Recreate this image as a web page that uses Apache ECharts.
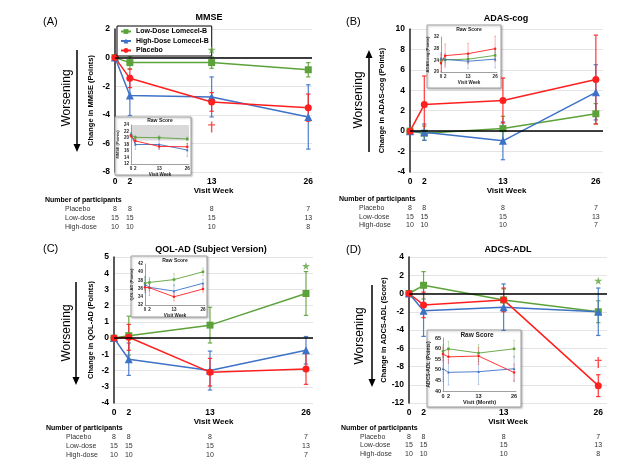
<!DOCTYPE html>
<html><head><meta charset="utf-8">
<script src="https://cdn.jsdelivr.net/npm/echarts@6/dist/echarts.min.js"></script>
<style>html,body{margin:0;padding:0;background:#fff}#c{width:640px;height:467px}</style>
</head><body><div id="c"></div>
<script>
// ---------- DATA ----------
const weeks = [0, 2, 13, 26];
const seriesNames = ['Low-Dose Lomecel-B', 'High-Dose Lomecel-B', 'Placebo'];
const rowLabels = ['Placebo', 'Low-dose', 'High-dose'];

// (A) MMSE change from baseline
const mmseLow = [0, -0.35, -0.35, -0.85], mmseLowErr = [0, 0.45, 0.4, 0.5];
const mmseHigh = [0, -2.65, -2.75, -4.15], mmseHighErr = [0, 1.4, 1.4, 2.25];
const mmsePbo = [0, -1.45, -3.1, -3.5], mmsePboErr = [0, 0.65, 0.65, 0.95];
const mmseRawLow = [20.9, 20.2, 20.1, 19.7], mmseRawLowErr = [0.6, 0.6, 0.6, 0.6];
const mmseRawHigh = [21.2, 18.0, 18.0, 16.3], mmseRawHighErr = [0.5, 1.5, 1.5, 2.0];
const mmseRawPbo = [20.7, 19.1, 17.4, 17.3], mmseRawPboErr = [0.5, 0.8, 0.8, 1.0];
const mmseBand = [19.2, 24];
const mmseStars = [[13, 0.55]], mmseDaggers = [[13, -4.85]];
const mmseN = [[8, 8, 8, 7], [15, 15, 15, 13], [10, 10, 10, 8]];

// (B) ADAS-cog
const adasLow = [0, -0.2, 0.25, 1.7], adasLowErr = [0, 0.7, 1.2, 1.0];
const adasHigh = [0, -0.1, -0.95, 3.8], adasHighErr = [0, 0.8, 1.85, 2.7];
const adasPbo = [0, 2.6, 3.0, 5.05], adasPboErr = [0, 2.8, 2.2, 4.35];
const adasRawLow = [24.0, 24.2, 24.4, 25.7], adasRawLowErr = [1, 1, 1, 1.2];
const adasRawHigh = [24.6, 24.3, 23.7, 24.4], adasRawHighErr = [2, 2, 2.5, 3];
const adasRawPbo = [23.1, 25.6, 26.3, 28.0], adasRawPboErr = [3, 4, 3.5, 4.3];
const adasN = [[8, 8, 8, 7], [15, 15, 15, 13], [10, 10, 10, 7]];

// (C) QOL-AD (Subject Version)
const qolLow = [0, 0.15, 0.8, 2.75], qolLowErr = [0, 1.2, 1.1, 1.35];
const qolHigh = [0, -1.3, -2.0, -0.75], qolHighErr = [0, 1.0, 1.2, 0.85];
const qolPbo = [0, 0.05, -2.1, -1.9], qolPboErr = [0, 0.8, 0.85, 0.95];
const qolRawLow = [37.3, 37.5, 38.2, 40.1], qolRawLowErr = [1.5, 1.2, 1.5, 0.9];
const qolRawHigh = [37.0, 36.3, 35.4, 37.3], qolRawHighErr = [2, 2, 1.5, 1];
const qolRawPbo = [36.3, 36.2, 34.0, 35.9], qolRawPboErr = [0.8, 0.8, 1, 0.8];
const qolStars = [[26, 4.45]];
const qolN = [[8, 8, 8, 7], [15, 15, 15, 13], [10, 10, 10, 7]];

// (D) ADCS-ADL
const adlLow = [0, 0.9, -0.7, -2.0], adlLowErr = [0, 1.5, 1.2, 1.2];
const adlHigh = [0, -1.9, -1.5, -2.0], adlHighErr = [0, 2.8, 2.55, 2.6];
const adlPbo = [0, -1.25, -0.7, -10.1], adlPboErr = [0, 1.4, 1.3, 1.2];
const adlRawLow = [58.7, 59.9, 57.9, 59.9], adlRawLowErr = [3, 3.5, 4, 4];
const adlRawHigh = [50.5, 48.8, 49.1, 50.5], adlRawHighErr = [6, 6, 6, 6];
const adlRawPbo = [57.4, 56.1, 56.5, 48.7], adlRawPboErr = [3, 3, 4, 4];
const adlStars = [[26, 1.4]], adlDaggers = [[26, -7.55]];
const adlN = [[8, 8, 8, 7], [15, 15, 15, 13], [10, 10, 10, 8]];

const panelData = [
  { main: [[mmseLow, mmseLowErr], [mmseHigh, mmseHighErr], [mmsePbo, mmsePboErr]],
    raw: [[mmseRawLow, mmseRawLowErr], [mmseRawHigh, mmseRawHighErr], [mmseRawPbo, mmseRawPboErr]],
    band: mmseBand, stars: mmseStars, daggers: mmseDaggers, counts: mmseN },
  { main: [[adasLow, adasLowErr], [adasHigh, adasHighErr], [adasPbo, adasPboErr]],
    raw: [[adasRawLow, adasRawLowErr], [adasRawHigh, adasRawHighErr], [adasRawPbo, adasRawPboErr]],
    band: null, stars: [], daggers: [], counts: adasN },
  { main: [[qolLow, qolLowErr], [qolHigh, qolHighErr], [qolPbo, qolPboErr]],
    raw: [[qolRawLow, qolRawLowErr], [qolRawHigh, qolRawHighErr], [qolRawPbo, qolRawPboErr]],
    band: null, stars: qolStars, daggers: [], counts: qolN },
  { main: [[adlLow, adlLowErr], [adlHigh, adlHighErr], [adlPbo, adlPboErr]],
    raw: [[adlRawLow, adlRawLowErr], [adlRawHigh, adlRawHighErr], [adlRawPbo, adlRawPboErr]],
    band: null, stars: adlStars, daggers: adlDaggers, counts: adlN }
];

// ---------- LAYOUT / STYLE ----------
const FONT = '"Liberation Sans", Arial, sans-serif';
const colors = ['#5ca23a', '#3d72c6', '#ff1f1f'];
const symbols = ['rect', 'triangle', 'circle'];
const symSizes = [7, 8, 7];
const STAR = 'path://M50,0 L61,35 L98,35 L68,57 L79,91 L50,70 L21,91 L32,57 L2,35 L39,35 Z';
const DAGGER = 'path://M4,0 H6 V4 H10 V6 H6 V16 H4 V6 H0 V4 H4 Z';

const layout = [
  { label: '(A)', labelX: 43, labelY: 22, title: 'MMSE', titleX: 209, titleY: 18,
    grid: { left: 115, top: 29, width: 197, height: 143 }, xmax: 26.5, ymin: -8, ymax: 2, yint: 2,
    yName: 'Change in MMSE (Points)', yGap: 20,
    arrowX: 77, arrowTop: 50, arrowBot: 152, arrowUp: false, wordX: 67, wordY: 98,
    inset: { box: [115, 117, 76, 58], grid: { left: 131, top: 125, width: 58, height: 39 }, xmax: 26.8,
      ymin: 12, ymax: 24, yint: 2, yName: 'MMSE (Points)', xName: 'Visit Week', fs: 4.5, tfs: 5, titleX: 160, titleY: 121 },
    table: { hx: 45, hy: 200, lx: 65, ry: [209, 218, 227] } },
  { label: '(B)', labelX: 346, labelY: 22, title: 'ADAS-cog', titleX: 506, titleY: 19,
    grid: { left: 410, top: 29, width: 193, height: 143 }, xmax: 27, ymin: -4, ymax: 10, yint: 2,
    yName: 'Change in ADAS-cog (Points)', yGap: 24,
    arrowX: 369, arrowTop: 50, arrowBot: 152, arrowUp: true, wordX: 359, wordY: 100,
    inset: { box: [427, 25, 74, 63], grid: { left: 441, top: 37, width: 56, height: 35 }, xmax: 26.9,
      ymin: 20, ymax: 32, yint: 4, yName: 'ADAS-cog (Points)', xName: 'Visit Week', fs: 4.5, tfs: 5, titleX: 469, titleY: 30 },
    table: { hx: 339, hy: 199, lx: 359, ry: [208, 217, 225] } },
  { label: '(C)', labelX: 43, labelY: 249, title: 'QOL-AD (Subject Version)', titleX: 211, titleY: 250,
    grid: { left: 114, top: 257, width: 199, height: 146 }, xmax: 26.95, ymin: -4, ymax: 5, yint: 1,
    yName: 'Change in QOL-AD (Points)', yGap: 19,
    arrowX: 76, arrowTop: 282, arrowBot: 385, arrowUp: false, wordX: 67, wordY: 333,
    inset: { box: [131, 256, 76, 61], grid: { left: 145, top: 264, width: 60, height: 41 }, xmax: 26.9,
      ymin: 32, ymax: 42, yint: 2, yName: 'QOL-AD (Points)', xName: 'Visit Week', fs: 4.5, tfs: 5, titleX: 175, titleY: 261 },
    table: { hx: 46, hy: 428, lx: 66, ry: [437, 446, 455] } },
  { label: '(D)', labelX: 346, labelY: 250, title: 'ADCS-ADL', titleX: 508, titleY: 250,
    grid: { left: 409, top: 257, width: 198, height: 146 }, xmax: 27.2, ymin: -12, ymax: 4, yint: 2,
    yName: 'Change in ADCS-ADL (Score)', yGap: 20,
    arrowX: 372, arrowTop: 285, arrowBot: 387, arrowUp: false, wordX: 360, wordY: 336,
    inset: { box: [427, 330, 94, 77], grid: { left: 443, top: 338, width: 73, height: 53 }, xmax: 26.7,
      ymin: 40, ymax: 65, yint: 5, yName: 'ADCS-ADL (Points)', xName: 'Visit (Month)', fs: 5.5, tfs: 6.5, titleX: 477, titleY: 335 },
    table: { hx: 341, hy: 428, lx: 360, ry: [437, 445, 454] } }
];

// ---------- BUILDERS ----------
function lineSeries(gi, name, vals, color, symbol, size, width, z) {
  return { type: 'line', name, xAxisIndex: gi, yAxisIndex: gi, z, silent: true, animation: false,
    data: weeks.map((w, i) => [w, vals[i]]), symbol, symbolSize: size,
    itemStyle: { color }, lineStyle: { color, width } };
}
function errSeries(gi, vals, errs, color, cap, width, opacity, z) {
  return { type: 'custom', xAxisIndex: gi, yAxisIndex: gi, z, silent: true, animation: false,
    data: weeks.map((w, i) => [w, vals[i] - errs[i], vals[i] + errs[i]]).filter((d, i) => errs[i] > 0),
    encode: { x: 0, y: [1, 2] },
    renderItem: (params, api) => {
      const x = api.value(0);
      const lo = api.coord([x, api.value(1)]);
      const hi = api.coord([x, api.value(2)]);
      const st = { stroke: color, lineWidth: width, opacity };
      return { type: 'group', children: [
        { type: 'line', shape: { x1: lo[0], y1: lo[1], x2: hi[0], y2: hi[1] }, style: st },
        { type: 'line', shape: { x1: lo[0] - cap, y1: lo[1], x2: lo[0] + cap, y2: lo[1] }, style: st },
        { type: 'line', shape: { x1: hi[0] - cap, y1: hi[1], x2: hi[0] + cap, y2: hi[1] }, style: st }
      ] };
    } };
}
function bandSeries(gi, band) {
  return { type: 'custom', xAxisIndex: gi, yAxisIndex: gi, z: 3, silent: true, animation: false,
    data: [[0, band[0], band[1]]], encode: { x: 0, y: [1, 2] },
    renderItem: (params, api) => {
      const cs = params.coordSys;
      const y0 = api.coord([0, api.value(2)])[1];
      const y1 = api.coord([0, api.value(1)])[1];
      return { type: 'rect', shape: { x: cs.x, y: y0, width: cs.width, height: y1 - y0 }, style: { fill: '#d9d9d9' } };
    } };
}
const labelFmt = v => (weeks.indexOf(v) >= 0 ? String(v) : '');

const grids = [], xAxes = [], yAxes = [], series = [];
layout.forEach((L, p) => {
  grids[p] = Object.assign({}, L.grid);
  grids[4 + p] = Object.assign({}, L.inset.grid);
  xAxes[p] = { gridIndex: p, type: 'value', min: 0, max: L.xmax, interval: 1,
    axisLine: { show: false }, axisTick: { show: false }, splitLine: { show: false },
    axisLabel: { formatter: labelFmt, fontSize: 8.5, fontWeight: 'bold', color: '#000', margin: 5, fontFamily: FONT },
    name: 'Visit Week', nameLocation: 'middle', nameGap: 14,
    nameTextStyle: { fontSize: 8, fontWeight: 'bold', color: '#000', fontFamily: FONT } };
  yAxes[p] = { gridIndex: p, type: 'value', min: L.ymin, max: L.ymax, interval: L.yint,
    axisLine: { show: true, lineStyle: { color: '#222', width: 1.5 } }, axisTick: { show: false },
    splitLine: { show: true, lineStyle: { color: '#e4e4e4', width: 1 } },
    axisLabel: { fontSize: 8.5, fontWeight: 'bold', color: '#000', margin: 5, fontFamily: FONT },
    name: L.yName, nameLocation: 'middle', nameGap: L.yGap,
    nameTextStyle: { fontSize: 7.5, fontWeight: 'bold', color: '#000', fontFamily: FONT } };
  const I = L.inset;
  xAxes[4 + p] = { gridIndex: 4 + p, type: 'value', min: 0, max: I.xmax, interval: 1, z: 3,
    axisLine: { show: true, lineStyle: { color: '#888', width: 0.8 } }, axisTick: { show: false }, splitLine: { show: false },
    axisLabel: { formatter: labelFmt, fontSize: I.fs, fontWeight: 'bold', color: '#222', margin: 2, fontFamily: FONT },
    name: I.xName, nameLocation: 'middle', nameGap: I.fs + 2,
    nameTextStyle: { fontSize: I.fs, fontWeight: 'bold', color: '#222', fontFamily: FONT } };
  yAxes[4 + p] = { gridIndex: 4 + p, type: 'value', min: I.ymin, max: I.ymax, interval: I.yint, z: 3,
    axisLine: { show: true, lineStyle: { color: '#888', width: 0.8 } }, axisTick: { show: false }, splitLine: { show: false },
    axisLabel: { fontSize: I.fs, fontWeight: 'bold', color: '#222', margin: 2, fontFamily: FONT },
    name: I.yName, nameLocation: 'middle', nameGap: I.fs + 3,
    nameTextStyle: { fontSize: I.fs - 0.5, fontWeight: 'bold', color: '#222', fontFamily: FONT } };

  const D = panelData[p];
  // zero reference line
  series.push({ type: 'line', xAxisIndex: p, yAxisIndex: p, data: [], silent: true, z: 1,
    markLine: { silent: true, symbol: 'none', animation: false, label: { show: false },
      lineStyle: { color: '#000', width: 1.5, type: 'solid' }, data: [{ yAxis: 0 }] } });
  D.main.forEach((s, k) => series.push(errSeries(p, s[0], s[1], colors[k], 2.2, 1.2, 0.9, 2)));
  D.main.forEach((s, k) => series.push(lineSeries(p, seriesNames[k], s[0], colors[k], symbols[k], symSizes[k], 1.5, 3)));
  if (D.stars.length) series.push({ type: 'scatter', xAxisIndex: p, yAxisIndex: p, data: D.stars, symbol: STAR,
    symbolSize: 8, itemStyle: { color: colors[0] }, z: 6, silent: true, animation: false });
  if (D.daggers.length) series.push({ type: 'scatter', xAxisIndex: p, yAxisIndex: p, data: D.daggers, symbol: DAGGER,
    symbolSize: [7, 11], itemStyle: { color: colors[2] }, z: 6, silent: true, animation: false });
  // inset
  if (D.band) series.push(bandSeries(4 + p, D.band));
  D.raw.forEach((s, k) => series.push(errSeries(4 + p, s[0], s[1], colors[k], 0.8, 0.8, 0.45, 4)));
  D.raw.forEach((s, k) => series.push(lineSeries(4 + p, seriesNames[k], s[0], colors[k], symbols[k], 2.5, 0.9, 5)));
});

const chart = echarts.init(document.getElementById('c'), null, { renderer: 'canvas' });
chart.setOption({
  animation: false,
  backgroundColor: '#fff',
  textStyle: { fontFamily: FONT },
  grid: grids, xAxis: xAxes, yAxis: yAxes, series,
  legend: { data: seriesNames, orient: 'vertical', left: 117, top: 26, itemGap: 2.5, itemWidth: 10, itemHeight: 6,
    padding: [2, 3, 2, 3], borderColor: '#000', borderWidth: 1, backgroundColor: '#fff', selectedMode: false,
    textStyle: { fontSize: 7, fontWeight: 'bold', color: '#000', fontFamily: FONT } }
});

// ---------- ANNOTATIONS ----------
const g = [];
function txt(x, y, text, size, weight, fill, align, rot, z) {
  return { type: 'text', x, y, rotation: rot || 0, z: z || 10, silent: true,
    style: { text, fontSize: size, fontWeight: weight, fontFamily: FONT, fill, align: align || 'left', verticalAlign: 'middle' } };
}
layout.forEach((L, p) => {
  g.push(txt(L.labelX, L.labelY, L.label, 11, 'normal', '#000'));
  g.push(txt(L.titleX, L.titleY, L.title, 9, 'bold', '#000', 'center'));
  g.push(txt(L.wordX, L.wordY, 'Worsening', 12, 'normal', '#000', 'center', Math.PI / 2));
  const tip = L.arrowUp ? L.arrowTop : L.arrowBot;
  const base = L.arrowUp ? tip + 8 : tip - 8;
  g.push({ type: 'line', silent: true, z: 10, shape: { x1: L.arrowX, y1: L.arrowUp ? base : L.arrowTop, x2: L.arrowX, y2: L.arrowUp ? L.arrowBot : base },
    style: { stroke: '#000', lineWidth: 1.5 } });
  g.push({ type: 'polygon', silent: true, z: 10, shape: { points: [[L.arrowX - 3.5, base], [L.arrowX + 3.5, base], [L.arrowX, tip]] }, style: { fill: '#000' } });
  const b = L.inset.box;
  g.push({ type: 'rect', silent: true, z: 1, shape: { x: b[0], y: b[1], width: b[2], height: b[3] },
    style: { fill: '#fff', stroke: '#a0a0a0', lineWidth: 1, shadowBlur: 2, shadowColor: 'rgba(0,0,0,0.25)', shadowOffsetX: 1, shadowOffsetY: 1 } });
  g.push(txt(L.inset.titleX, L.inset.titleY, 'Raw Score', L.inset.tfs, 'bold', '#222', 'center'));
  const T = L.table;
  g.push(txt(T.hx, T.hy, 'Number of participants', 7, 'bold', '#000'));
  panelData[p].counts.forEach((row, r) => {
    g.push(txt(T.lx, T.ry[r], rowLabels[r], 7, 'normal', '#333'));
    row.forEach((n, k) => {
      const px = chart.convertToPixel({ xAxisIndex: p }, weeks[k]);
      g.push(txt(px, T.ry[r], String(n), 7, 'normal', '#333', 'center'));
    });
  });
});
chart.setOption({ graphic: { elements: g } });
</script>
</body></html>
